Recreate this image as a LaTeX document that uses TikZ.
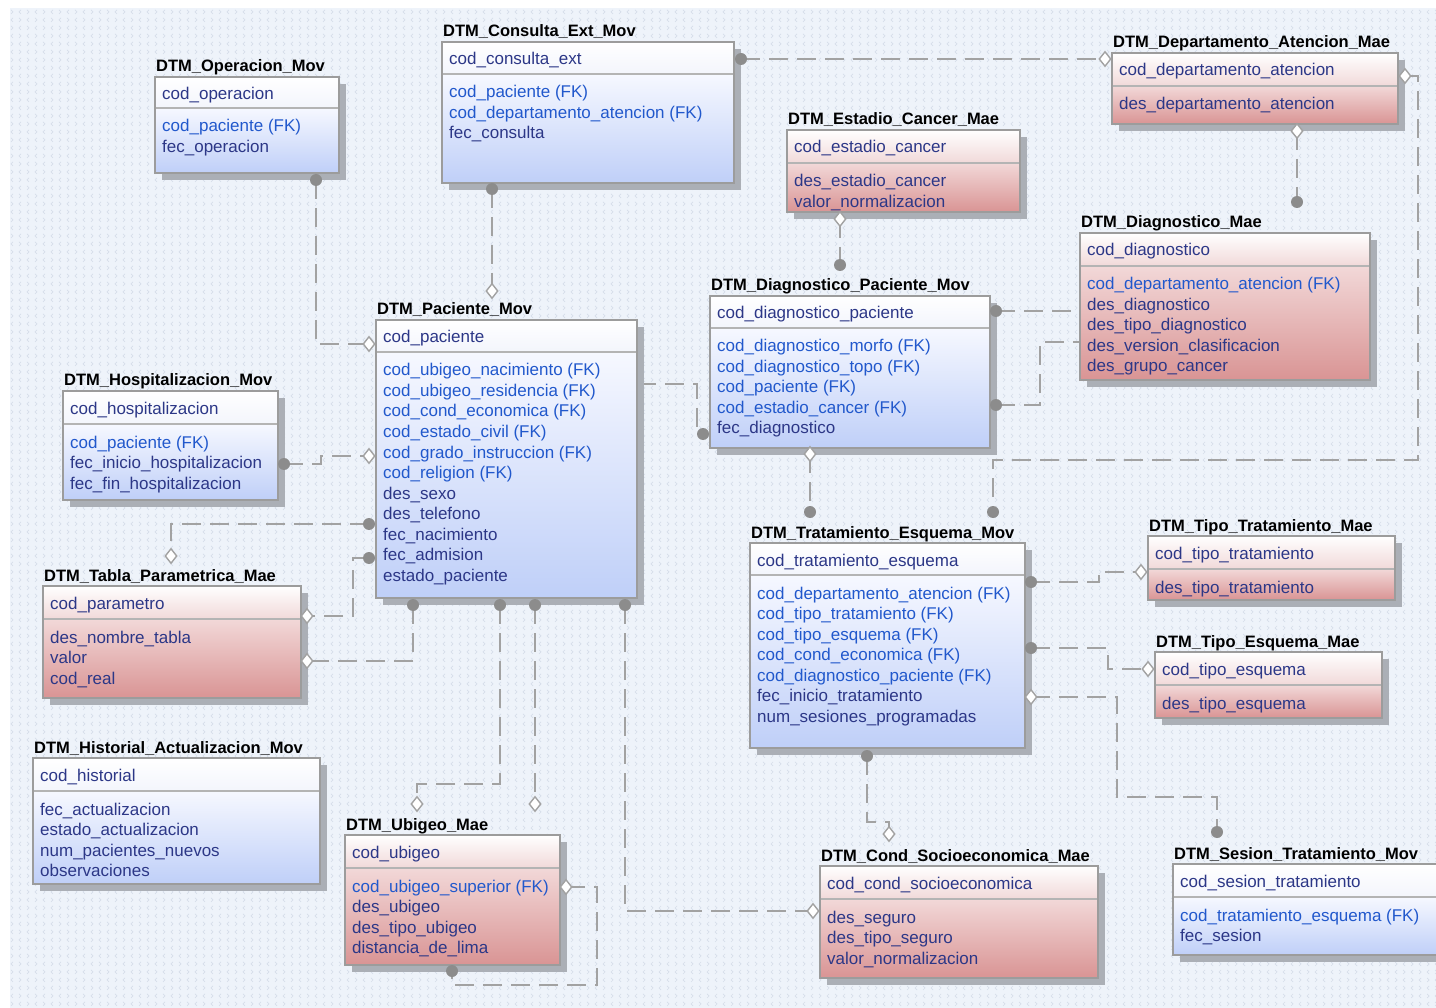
\documentclass[tikz,border=0pt]{standalone}
\usepackage{fontspec}
\setmainfont{Liberation Sans}
\usetikzlibrary{patterns,shapes.geometric,calc}

% ---------- colours ----------
\definecolor{canvas}{HTML}{EEF3FA}
\definecolor{canvasmark}{HTML}{D6DEEA}
\definecolor{frameC}{HTML}{9C9C9C}
\definecolor{sepC}{HTML}{B4B4B4}
\definecolor{shadowC}{HTML}{ABAFB6}
\definecolor{relC}{HTML}{A2A2A2}
\definecolor{dotC}{HTML}{8C8C8C}
\definecolor{fkC}{HTML}{2158CC}
\definecolor{atC}{HTML}{2C3787}
\definecolor{movTop}{HTML}{F6F8FF}
\definecolor{movBot}{HTML}{BFCFF8}
\definecolor{movHead}{HTML}{F3F5FC}
\definecolor{maeHead}{HTML}{F1D9D9}
\definecolor{maeTop}{HTML}{F2D8D8}
\definecolor{maeBot}{HTML}{D99494}

% ---------- faint canvas texture ----------
\pgfdeclarepatternformonly{erbg}{\pgfqpoint{-1pt}{-1pt}}{\pgfqpoint{17pt}{17pt}}{\pgfqpoint{16pt}{16pt}}{%
  \pgfsetlinewidth{0.7pt}%
  \pgfpathmoveto{\pgfqpoint{5pt}{6pt}}\pgfpathlineto{\pgfqpoint{3pt}{4pt}}\pgfpathlineto{\pgfqpoint{5pt}{2pt}}%
  \pgfpathmoveto{\pgfqpoint{11pt}{6pt}}\pgfpathlineto{\pgfqpoint{13pt}{4pt}}\pgfpathlineto{\pgfqpoint{11pt}{2pt}}%
  \pgfpathmoveto{\pgfqpoint{3pt}{14pt}}\pgfpathlineto{\pgfqpoint{5pt}{12pt}}\pgfpathlineto{\pgfqpoint{3pt}{10pt}}%
  \pgfpathmoveto{\pgfqpoint{13pt}{14pt}}\pgfpathlineto{\pgfqpoint{11pt}{12pt}}\pgfpathlineto{\pgfqpoint{13pt}{10pt}}%
  \pgfusepath{stroke}}

\tikzset{
  mov head/.style={top color=white, bottom color=movHead},
  mov body/.style={top color=movTop, bottom color=movBot},
  mae head/.style={top color=white, bottom color=maeHead},
  mae body/.style={top color=maeTop, bottom color=maeBot},
  frame/.style={draw=frameC, line width=1.6pt},
  sepline/.style={draw=sepC, line width=2pt},
  etitle/.style={anchor=base west, inner sep=0pt, font=\bfseries\fontsize{16.5}{18}\selectfont, text=black},
  attr/.style={anchor=base west, inner sep=0pt, font=\fontsize{17}{20}\selectfont, text=atC},
  rel/.style={draw=relC, line width=2.6pt, dash pattern=on 19pt off 9pt},
  fkdot/.style={circle, fill=dotC, inner sep=0pt, minimum size=12pt},
  pkdiamond/.style={diamond, draw=relC, fill=white, line width=1.4pt, inner sep=0pt,
                    minimum width=12pt, minimum height=15pt},
}

\newcommand\fk[1]{\textcolor{fkC}{#1}}

% entity box: name, x0, y0, x1, y1, header bottom, kind, title, key
\newcommand\erent[9]{%
  \fill[shadowC] (#2+7,#3+7) rectangle (#4+7,#5+7);
  \shade[#7 head] (#2,#3) rectangle (#4,#6);
  \shade[#7 body] (#2,#6) rectangle (#4,#5);
  \draw[sepline] (#2,#6) -- (#4,#6);
  \draw[frame] (#2,#3) rectangle (#4,#5);
  \node[etitle] (#1) at (#2+1,#3-5) {#8};
  \node[attr] (#1-key) at (#2+7,#3+23) {#9};
}
% entity attributes: name, x0, header bottom, list
\newcommand\erattrs[4]{%
  \foreach \aitem [count=\arow from 0] in {#4}
    {\node[attr] (#1-a\arow) at (#2+7,#3+24+\arow*20.5) {\aitem};}
}

\begin{document}
\begin{tikzpicture}[x=1pt,y=-1pt]
\useasboundingbox (0,0) rectangle (1436,1008);
\clip (0,0) rectangle (1436,1008);
\fill[white] (0,0) rectangle (1436,1008);
\fill[canvas] (10,8) rectangle (1436,1008);
\fill[pattern=erbg, pattern color=canvasmark] (10,8) rectangle (1436,1008);

% ---------- relationship end points ----------
\coordinate (op-s)  at (316,180);
\coordinate (co-s)  at (492,189);
\coordinate (co-e)  at (741,59);
\coordinate (de-w)  at (1105,59);
\coordinate (de-s)  at (1297,131);
\coordinate (de-e)  at (1405,76);
\coordinate (dm-n)  at (1297,202);
\coordinate (dm-w1) at (1080,311);
\coordinate (dm-w2) at (1080,342);
\coordinate (es-s)  at (840,219);
\coordinate (dp-n)  at (840,265);
\coordinate (dp-e1) at (996,311);
\coordinate (dp-e2) at (996,405);
\coordinate (dp-w)  at (703,434);
\coordinate (dp-s)  at (810,454);
\coordinate (pa-n)  at (492,291);
\coordinate (pa-w1) at (369,344);
\coordinate (pa-w2) at (369,456);
\coordinate (pa-w3) at (369,524);
\coordinate (pa-w4) at (369,558);
\coordinate (pa-e)  at (637,384);
\coordinate (pa-s1) at (413,605);
\coordinate (pa-s2) at (500,605);
\coordinate (pa-s3) at (535,605);
\coordinate (pa-s4) at (625,605);
\coordinate (ho-e)  at (284,464);
\coordinate (ta-n)  at (171,556);
\coordinate (ta-e1) at (307,616);
\coordinate (ta-e2) at (307,661);
\coordinate (ub-n1) at (417,804);
\coordinate (ub-n2) at (535,804);
\coordinate (ub-e)  at (566,887);
\coordinate (ub-s)  at (452,971);
\coordinate (cs-w)  at (813,911);
\coordinate (cs-n)  at (889,834);
\coordinate (tr-n1) at (810,512);
\coordinate (tr-n2) at (993,512);
\coordinate (tr-e1) at (1031,582);
\coordinate (tr-e2) at (1031,648);
\coordinate (tr-e3) at (1031,697);
\coordinate (tr-s)  at (867,756);
\coordinate (tt-w)  at (1141,572);
\coordinate (te-w)  at (1148,669);
\coordinate (se-n)  at (1217,832);

% ---------- relationships ----------
\draw[rel] (op-s) |- (pa-w1);
\draw[rel] (co-s) -- (pa-n);
\draw[rel] (co-e) -- (de-w);
\draw[rel] (de-s) -- (dm-n);
\draw[rel] (de-e) -| (1418,460) -| (tr-n2);
\draw[rel] (es-s) -- (dp-n);
\draw[rel] (dp-e1) -- (dm-w1);
\draw[rel] (dp-e2) -| (1040,342) -- (dm-w2);
\draw[rel] (pa-e) -| (697,434) -- (dp-w);
\draw[rel] (dp-s) -- (tr-n1);
\draw[rel] (ho-e) -| (321,456) -- (pa-w2);
\draw[rel] (pa-w3) -| (ta-n);
\draw[rel] (pa-w4) -| (353,616) -- (ta-e1);
\draw[rel] (pa-s1) |- (ta-e2);
\draw[rel] (pa-s2) |- (417,784) -- (ub-n1);
\draw[rel] (pa-s3) -- (ub-n2);
\draw[rel] (pa-s4) |- (cs-w);
\draw[rel] (ub-e) -| (597,985) -| (ub-s);
\draw[rel] (tr-e1) -| (1099,572) -- (tt-w);
\draw[rel] (tr-e2) -| (1108,669) -- (te-w);
\draw[rel] (tr-e3) -| (1117,797) -| (se-n);
\draw[rel] (tr-s) |- (889,822) -- (cs-n);

% ---------- entities ----------
\erent{op}{155}{77}{339}{173}{108}{mov}{DTM\_Operacion\_Mov}{cod\_operacion}
\erattrs{op}{155}{108}{\fk{cod\_paciente (FK)},fec\_operacion}

\erent{co}{442}{42}{734}{183}{74}{mov}{DTM\_Consulta\_Ext\_Mov}{cod\_consulta\_ext}
\erattrs{co}{442}{74}{\fk{cod\_paciente (FK)},\fk{cod\_departamento\_atencion (FK)},fec\_consulta}

\erent{de}{1112}{53}{1398}{124}{86}{mae}{DTM\_Departamento\_Atencion\_Mae}{cod\_departamento\_atencion}
\erattrs{de}{1112}{86}{des\_departamento\_atencion}

\erent{es}{787}{130}{1020}{212}{163}{mae}{DTM\_Estadio\_Cancer\_Mae}{cod\_estadio\_cancer}
\erattrs{es}{787}{163}{des\_estadio\_cancer,valor\_normalizacion}

\erent{dm}{1080}{233}{1370}{380}{266}{mae}{DTM\_Diagnostico\_Mae}{cod\_diagnostico}
\erattrs{dm}{1080}{266}{\fk{cod\_departamento\_atencion (FK)},des\_diagnostico,des\_tipo\_diagnostico,des\_version\_clasificacion,des\_grupo\_cancer}

\erent{dp}{710}{296}{990}{448}{328}{mov}{DTM\_Diagnostico\_Paciente\_Mov}{cod\_diagnostico\_paciente}
\erattrs{dp}{710}{328}{\fk{cod\_diagnostico\_morfo (FK)},\fk{cod\_diagnostico\_topo (FK)},\fk{cod\_paciente (FK)},\fk{cod\_estadio\_cancer (FK)},fec\_diagnostico}

\erent{pa}{376}{320}{637}{598}{352}{mov}{DTM\_Paciente\_Mov}{cod\_paciente}
\erattrs{pa}{376}{352}{\fk{cod\_ubigeo\_nacimiento (FK)},\fk{cod\_ubigeo\_residencia (FK)},\fk{cod\_cond\_economica (FK)},\fk{cod\_estado\_civil (FK)},\fk{cod\_grado\_instruccion (FK)},\fk{cod\_religion (FK)},des\_sexo,des\_telefono,fec\_nacimiento,fec\_admision,estado\_paciente}

\erent{ho}{63}{391}{278}{500}{424}{mov}{DTM\_Hospitalizacion\_Mov}{cod\_hospitalizacion}
\erattrs{ho}{63}{424}{\fk{cod\_paciente (FK)},fec\_inicio\_hospitalizacion,fec\_fin\_hospitalizacion}

\erent{ta}{43}{586}{301}{698}{619}{mae}{DTM\_Tabla\_Parametrica\_Mae}{cod\_parametro}
\erattrs{ta}{43}{619}{des\_nombre\_tabla,valor,cod\_real}

\erent{hi}{33}{758}{320}{884}{791}{mov}{DTM\_Historial\_Actualizacion\_Mov}{cod\_historial}
\erattrs{hi}{33}{791}{fec\_actualizacion,estado\_actualizacion,num\_pacientes\_nuevos,observaciones}

\erent{ub}{345}{835}{560}{965}{868}{mae}{DTM\_Ubigeo\_Mae}{cod\_ubigeo}
\erattrs{ub}{345}{868}{\fk{cod\_ubigeo\_superior (FK)},des\_ubigeo,des\_tipo\_ubigeo,distancia\_de\_lima}

\erent{tr}{750}{543}{1025}{748}{575}{mov}{DTM\_Tratamiento\_Esquema\_Mov}{cod\_tratamiento\_esquema}
\erattrs{tr}{750}{575}{\fk{cod\_departamento\_atencion (FK)},\fk{cod\_tipo\_tratamiento (FK)},\fk{cod\_tipo\_esquema (FK)},\fk{cod\_cond\_economica (FK)},\fk{cod\_diagnostico\_paciente (FK)},fec\_inicio\_tratamiento,num\_sesiones\_programadas}

\erent{tt}{1148}{536}{1395}{600}{569}{mae}{DTM\_Tipo\_Tratamiento\_Mae}{cod\_tipo\_tratamiento}
\erattrs{tt}{1148}{569}{des\_tipo\_tratamiento}

\erent{te}{1155}{652}{1382}{718}{685}{mae}{DTM\_Tipo\_Esquema\_Mae}{cod\_tipo\_esquema}
\erattrs{te}{1155}{685}{des\_tipo\_esquema}

\erent{cs}{820}{866}{1098}{978}{899}{mae}{DTM\_Cond\_Socioeconomica\_Mae}{cod\_cond\_socioeconomica}
\erattrs{cs}{820}{899}{des\_seguro,des\_tipo\_seguro,valor\_normalizacion}

\erent{se}{1173}{864}{1450}{955}{897}{mov}{DTM\_Sesion\_Tratamiento\_Mov}{cod\_sesion\_tratamiento}
\erattrs{se}{1173}{897}{\fk{cod\_tratamiento\_esquema (FK)},fec\_sesion}

% ---------- relationship end symbols ----------
\foreach \p in {op-s,co-s,co-e,dm-n,dp-n,dp-e1,dp-e2,dp-w,pa-w3,pa-w4,pa-s1,pa-s2,pa-s3,pa-s4,ho-e,ub-s,tr-n1,tr-n2,tr-e1,tr-e2,tr-s,se-n}
  {\node[fkdot] (dot-\p) at (\p) {};}
\foreach \p in {de-w,de-s,de-e,es-s,dp-s,pa-n,pa-w1,pa-w2,ta-n,ta-e1,ta-e2,ub-n1,ub-n2,ub-e,cs-w,cs-n,tr-e3,tt-w,te-w}
  {\node[pkdiamond] (dia-\p) at (\p) {};}
\end{tikzpicture}
\end{document}
